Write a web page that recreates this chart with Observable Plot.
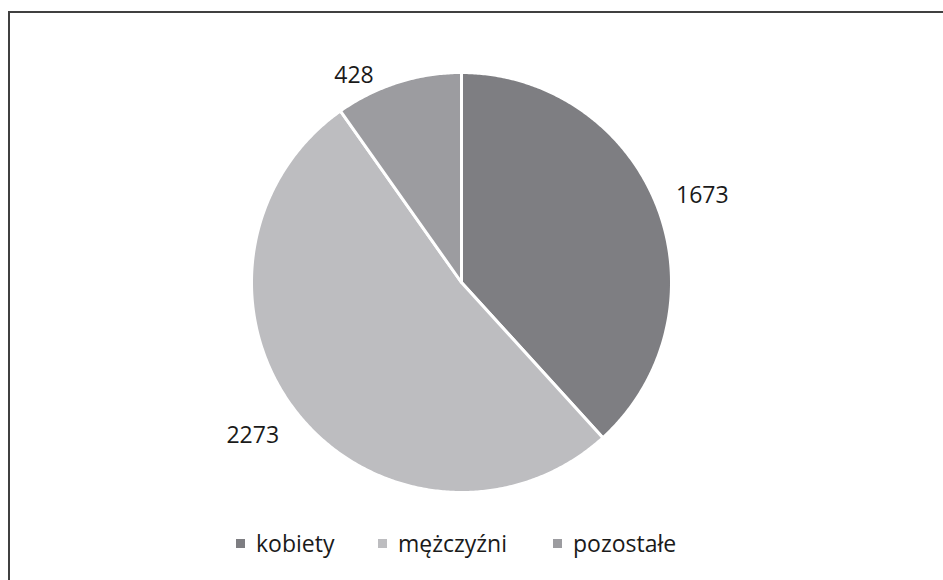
<!DOCTYPE html>
<html>
<head>
<meta charset="utf-8">
<script src="https://cdn.jsdelivr.net/npm/d3@7"></script>
<script src="https://cdn.jsdelivr.net/npm/@observablehq/plot@0.6"></script>
<style>
  html, body { margin: 0; padding: 0; background: #fff; width: 943px; height: 580px; overflow: hidden; }
  #frame { position: absolute; left: 8px; top: 11px; width: 1000px; height: 700px;
           border-top: 2px solid #404040; border-left: 2px solid #404040; box-sizing: border-box; }
  #chart { position: absolute; left: 0; top: 0; }
  #legend { position: absolute; top: 529px; left: 0; font-family: "Open Sans", sans-serif; font-size: 23px; color: #1a1a1a; }
  .item { position: absolute; white-space: nowrap; line-height: 28px; }
  .sw { position: absolute; width: 9px; height: 9px; top: 10px; }
  .lbl { position: absolute; top: 0; }
</style>
</head>
<body>
<div id="frame"></div>
<div id="chart"></div>
<div id="legend"></div>
<script>
const categories = ["kobiety", "mężczyźni", "pozostałe"];
const values = [1673, 2273, 428];
const colors = ["#7e7e82", "#bdbdc0", "#9c9ca0"];

const data = categories.map((c, i) => ({name: c, value: values[i]}));
const arcs = d3.pie().sort(null).value(d => d.value)(data);

// slice outlines (angle from 12 o'clock, clockwise)
const pts = [];
arcs.forEach(a => {
  pts.push({name: a.data.name, x: 0, y: 0});
  const n = Math.max(2, Math.ceil((a.endAngle - a.startAngle) / (Math.PI / 360)));
  for (let k = 0; k <= n; k++) {
    const t = a.startAngle + (a.endAngle - a.startAngle) * k / n;
    pts.push({name: a.data.name, x: Math.sin(t), y: Math.cos(t)});
  }
});
const labels = arcs.map(a => {
  const m = (a.startAngle + a.endAngle) / 2;
  return {name: a.data.name, value: a.data.value, x: Math.sin(m), y: Math.cos(m)};
});
const offsets = {"kobiety": [45, -11], "mężczyźni": [-45, 22], "pozostałe": [-44, -7]};

const textMarks = labels.map(l => Plot.text([l], {
  x: "x", y: "y", text: d => String(d.value),
  dx: offsets[l.name][0], dy: offsets[l.name][1],
  fontSize: 23, fill: "#1a1a1a"
}));

const chart = Plot.plot({
  width: 943, height: 580,
  marginLeft: 251, marginRight: 272, marginTop: 72, marginBottom: 88,
  x: {domain: [-1, 1], axis: null},
  y: {domain: [-1, 1], axis: null},
  color: {domain: categories, range: colors},
  style: {fontFamily: "'Open Sans', sans-serif", background: "transparent"},
  marks: [
    Plot.line(pts, {x: "x", y: "y", z: "name", fill: "name", stroke: "white",
      strokeWidth: 3, strokeLinejoin: "round", curve: "linear-closed"}),
    ...textMarks
  ]
});
document.getElementById("chart").appendChild(chart);

const legendX = [[236, 256], [378, 398], [553, 573]];
const legend = document.getElementById("legend");
categories.forEach((c, i) => {
  const it = document.createElement("div");
  it.className = "item";
  it.style.left = "0px";
  const sw = document.createElement("div");
  sw.className = "sw";
  sw.style.left = legendX[i][0] + "px";
  sw.style.background = colors[i];
  const tx = document.createElement("div");
  tx.className = "lbl";
  tx.style.left = legendX[i][1] + "px";
  tx.textContent = c;
  it.appendChild(sw); it.appendChild(tx);
  legend.appendChild(it);
});
</script>
</body>
</html>
